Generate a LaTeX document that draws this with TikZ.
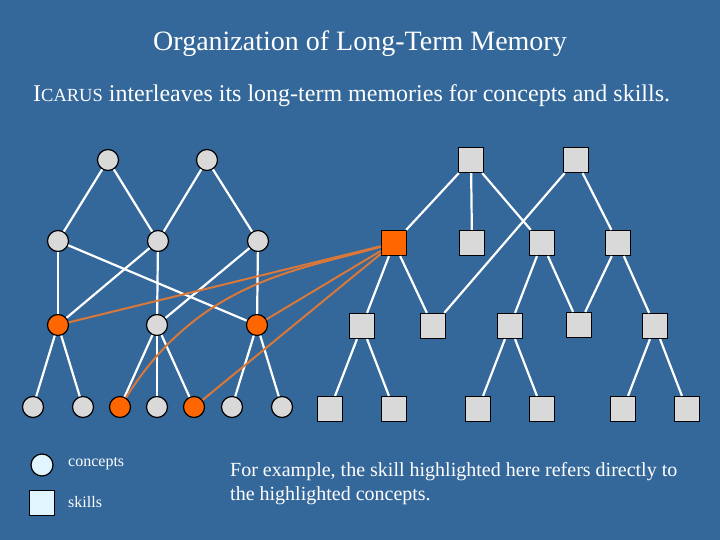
\documentclass[tikz,border=0pt]{standalone}
\usepackage{fontspec}
\setmainfont{Liberation Serif}
\begin{document}
\begin{tikzpicture}[x=1pt,y=-1pt,
  cn/.style={circle,draw=black,line width=1.2pt,fill=gray!30!white,minimum size=21pt,inner sep=0pt},
  sk/.style={rectangle,draw=black,line width=1.2pt,fill=gray!30!white,minimum size=25pt,inner sep=0pt},
  hot/.style={fill=hl},
  ed/.style={white,line width=2.2pt},
  oe/.style={draw=ol,line width=2pt},
  txt/.style={text=white,inner sep=0pt}]
\definecolor{bg}{HTML}{34679A}
\definecolor{hl}{HTML}{FF6600}
\definecolor{ol}{HTML}{D8783A}
\fill[bg] (0,0) rectangle (720,540);
\useasboundingbox (0,0) rectangle (720,540);
\node[txt,font=\fontsize{28}{32}\selectfont] (title) at (360,44) {Organization of Long-Term Memory};
\node[txt,anchor=west,font=\fontsize{24}{28}\selectfont] (sub) at (33,96) {I{\fontsize{18.5}{20}\selectfont CARUS} interleaves its long-term memories for concepts and skills.};
% concept nodes
\node[cn] (t1) at (108,160) {}; \node[cn] (t2) at (207,160) {};
\node[cn] (a) at (58,241) {}; \node[cn] (b) at (158,241) {}; \node[cn] (c) at (258,241) {};
\node[cn,hot] (p) at (58,325) {}; \node[cn] (q) at (157,325) {}; \node[cn,hot] (r) at (257,325) {};
\node[cn] (l1) at (33,407) {}; \node[cn] (l2) at (83,407) {}; \node[cn,hot] (l3) at (120,407) {};
\node[cn] (l4) at (157,407) {}; \node[cn,hot] (l5) at (194,407) {}; \node[cn] (l6) at (232,407) {};
\node[cn] (l7) at (282,407) {};
% skills
\node[sk] (s1) at (471,160) {}; \node[sk] (s2) at (576,160) {};
\node[sk,hot] (o) at (394,243) {}; \node[sk] (B) at (472,243) {}; \node[sk] (C) at (542,243) {}; \node[sk] (D) at (618,243) {};
\node[sk] (e1) at (362,326) {}; \node[sk] (e2) at (433,326) {}; \node[sk] (e3) at (510,326) {}; \node[sk] (e4) at (579,325) {}; \node[sk] (e5) at (655,326) {};
\node[sk] (f1) at (330,409) {}; \node[sk] (f2) at (394,409) {}; \node[sk] (f3) at (478,409) {}; \node[sk] (f4) at (542,409) {}; \node[sk] (f5) at (623,409) {}; \node[sk] (f6) at (687,409) {};
\foreach \u/\v in {t1/a,t1/b,t2/b,t2/c,a/p,a/r,b/p,b/q,c/q,c/r,p/l1,p/l2,q/l3,q/l4,q/l5,r/l6,r/l7,
  s1/o,s1/B,s1/C,s2/e2,s2/D,o/e1,o/e2,C/e3,C/e4,D/e4,D/e5,e1/f1,e1/f2,e3/f3,e3/f4,e5/f5,e5/f6}
  \draw[ed] (\u) -- (\v);
\draw[oe] (o) -- (p);
\draw[oe] (o) -- (r);
\draw[oe] (o) .. controls (300,270) and (200,280) .. (l3);
\draw[oe] (o) -- (l5);
% legend
\node[cn,fill=cyan!12!white,minimum size=22pt] (lc) at (42,465) {};
\node[sk,fill=cyan!12!white,minimum size=25pt] (ls) at (42,503) {};
\node[txt,anchor=west,font=\fontsize{16}{18}\selectfont] (lct) at (68,464) {concepts};
\node[txt,anchor=west,font=\fontsize{16}{18}\selectfont] (lst) at (68,502) {skills};
\node[txt,anchor=north west,align=left,font=\fontsize{20}{24}\selectfont] (ex) at (230,462) {For example, the skill highlighted here refers directly to\\the highlighted concepts.};
\end{tikzpicture}
\end{document}
